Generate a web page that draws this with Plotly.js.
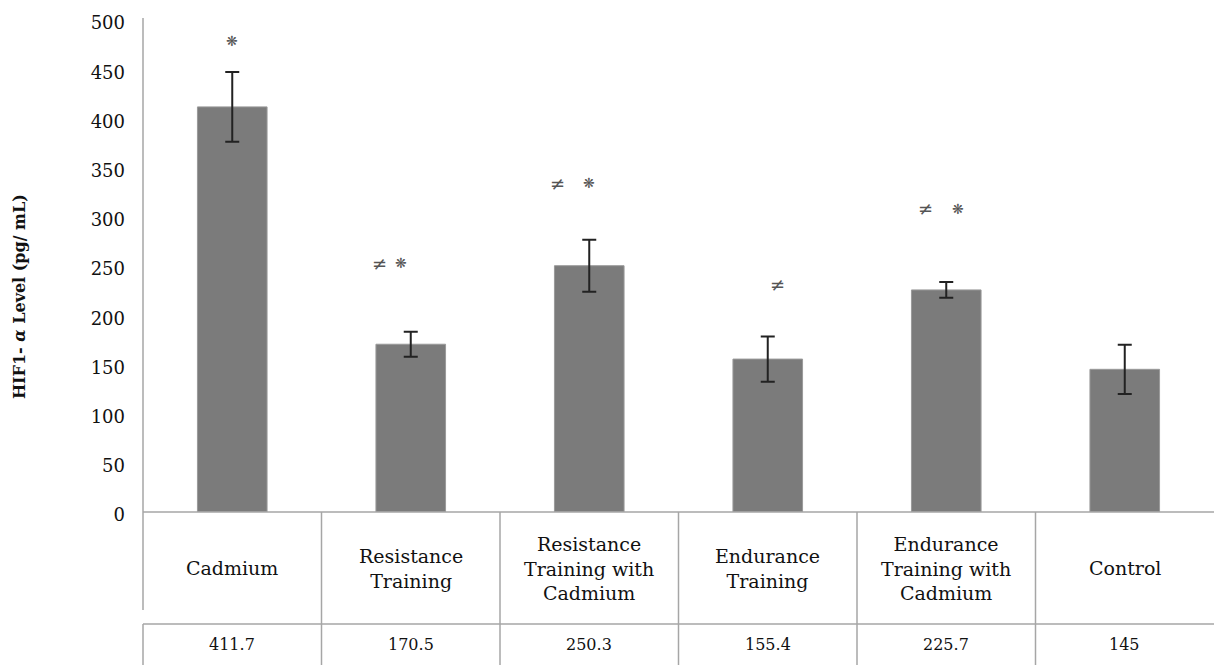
<!DOCTYPE html>
<html>
<head>
<meta charset="utf-8">
<script src="https://cdn.plot.ly/plotly-3.0.1.min.js"></script>
<style>html,body{margin:0;padding:0;background:#fff;}#chart{width:1214px;height:665px;}</style>
</head>
<body>
<div id="chart"></div>
<script>
// ---- data ----
const categories = ["Cadmium", "Resistance Training", "Resistance Training with Cadmium", "Endurance Training", "Endurance Training with Cadmium", "Control"];
const tableLabels = ["Cadmium", "Resistance<br>Training", "Resistance<br>Training with<br>Cadmium", "Endurance<br>Training", "Endurance<br>Training with<br>Cadmium", "Control"];
const means = [411.7, 170.5, 250.3, 155.4, 225.7, 145];
const meanLabels = ["411.7", "170.5", "250.3", "155.4", "225.7", "145"];
const errors = [35.5, 12.8, 26.5, 23, 8, 25];
const neqMarkY = [null, 253, 334, 231, 308, null];   // "≠" marks (value level)
const starMarkY = [479, 253, 334, null, 308, null];  // "❋" marks (value level)
const yTicks = [0, 50, 100, 150, 200, 250, 300, 350, 400, 450, 500];
const yTitle = "HIF1- <i>α</i> Level (pg/ mL)";

// ---- styles ----
const FONT = "DejaVu Serif";
const lineCol = "#a6a6a6";
const neqShift = [0, -31, -32, 10, -21, 0];
const starShift = [0, -10, 0, 0, 12, 0];

const trace = {
  type: "bar",
  x: categories,
  y: means,
  width: 0.39,
  marker: {color: "#7b7b7b", line: {color: "#9a9a9a", width: 1}},
  error_y: {type: "data", array: errors, visible: true, color: "#222", thickness: 2, width: 7},
  hoverinfo: "skip"
};

const annotations = [];
const rowLabelY = -0.114, rowValueY = -0.27;
categories.forEach((c, i) => {
  annotations.push({x: c, xref: "x", y: rowLabelY, yref: "paper", text: tableLabels[i], showarrow: false,
    font: {family: FONT, size: 19, color: "#111"}, align: "center", yanchor: "middle"});
  annotations.push({x: c, xref: "x", y: rowValueY, yref: "paper", text: meanLabels[i], showarrow: false,
    font: {family: FONT, size: 16, color: "#111"}, yanchor: "middle"});
  if (neqMarkY[i] !== null) annotations.push({x: c, xref: "x", y: neqMarkY[i], yref: "y", text: "≠", showarrow: false,
    xshift: neqShift[i], font: {family: "DejaVu Sans", size: 18, color: "#555"}, yanchor: "middle"});
  if (starMarkY[i] !== null) annotations.push({x: c, xref: "x", y: starMarkY[i], yref: "y", text: "❋", showarrow: false,
    xshift: starShift[i], font: {family: "DejaVu Sans", size: 14, color: "#555"}, yanchor: "middle"});
});
annotations.push({x: 0, xref: "paper", y: 0.437, yref: "paper", text: yTitle, textangle: -90, showarrow: false,
  xanchor: "center", yanchor: "middle", xshift: -123, font: {family: FONT, size: 16, color: "#111", weight: "bold"}});

const shapes = [];
const rowLineY = -0.2276, bottomY = -0.34;
shapes.push({type: "line", xref: "paper", yref: "paper", x0: 0, x1: 0, y0: -0.199, y1: 1.004, line: {color: lineCol, width: 1.5}});
shapes.push({type: "line", xref: "paper", yref: "paper", x0: 0, x1: 1, y0: 0, y1: 0, line: {color: lineCol, width: 1.5}});
shapes.push({type: "line", xref: "paper", yref: "paper", x0: 0, x1: 1, y0: rowLineY, y1: rowLineY, line: {color: lineCol, width: 1.5}});
shapes.push({type: "line", xref: "paper", yref: "paper", x0: 0, x1: 0, y0: rowLineY, y1: bottomY, line: {color: lineCol, width: 1.5}});
for (let k = 1; k < categories.length; k++) {
  shapes.push({type: "line", xref: "x", yref: "paper", x0: k - 0.5, x1: k - 0.5, y0: 0, y1: bottomY, line: {color: lineCol, width: 1.5}});
}

const layout = {
  width: 1214, height: 665,
  margin: {l: 143, r: 0, t: 20, b: 153},
  paper_bgcolor: "#fff", plot_bgcolor: "#fff",
  showlegend: false,
  xaxis: {type: "category", range: [-0.5, 5.5], showticklabels: false, ticks: "", showline: false, showgrid: false, zeroline: false, fixedrange: true},
  yaxis: {range: [0, 500], tickvals: yTicks, ticktext: yTicks.map(String), showgrid: false, zeroline: false, showline: false,
    ticks: "", ticklabelstandoff: 17, ticklabelshift: 3, tickfont: {family: FONT, size: 18, color: "#111"}},
  annotations: annotations,
  shapes: shapes,
  font: {family: FONT}
};

Plotly.newPlot("chart", [trace], layout, {staticPlot: true, displayModeBar: false});
</script>
</body>
</html>
